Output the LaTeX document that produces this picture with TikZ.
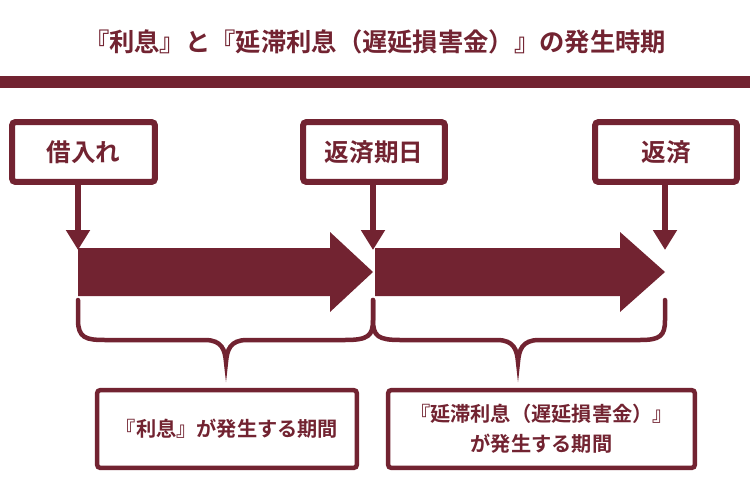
\documentclass[tikz,border=0pt]{standalone}
\usepackage{fontspec}
\newfontfamily\jp{Noto Sans CJK JP Bold}
\usepackage{tikz}
\usetikzlibrary{arrows.meta, positioning, calc}
\definecolor{maroon}{HTML}{722331}
\tikzset{
  labelbox/.style={draw=maroon, line width=1.2mm, fill=white, rounded corners=2pt,
    font=\jp\fontsize{14}{16}\selectfont, text=maroon, align=center, inner sep=0pt},
  notebox/.style={draw=maroon, line width=0.9mm, fill=white, rounded corners=2pt,
    font=\jp\fontsize{11.5}{17}\selectfont, text=maroon, align=center, inner sep=0pt},
  downarrow/.style={maroon, line width=1.2mm, -{Triangle[width=4.6mm,length=4mm]}},
  brace/.style={maroon, line width=0.9mm, line cap=round}
}
\begin{document}
\begin{tikzpicture}[x=0.02cm, y=-0.02cm]
        \useasboundingbox (0,0) rectangle (750,500);
        
        % Title and bar
        \node[font=\jp\Large, text=maroon] (title) at (375,42) {『利息』と『延滞利息（遅延損害金）』の発生時期};
        \fill[maroon] (0,76) rectangle (750,88);
        
        % Top boxes
        \node[labelbox, minimum width=2.86cm, minimum height=1.2cm] (borrow) at (83.5,152) {借入れ};
        \node[labelbox, minimum width=2.84cm, minimum height=1.2cm] (due) at (374,152) {返済期日};
        \node[labelbox, minimum width=2.84cm, minimum height=1.2cm] (repay) at (666,152) {返済};
        
        % Down arrows
        \coordinate (p1) at (78,250);
        \coordinate (p2) at (373,250);
        \coordinate (p3) at (665,250);
        \draw[downarrow] (borrow.south -| p1) -- (p1);
        \draw[downarrow] (due.south -| p2) -- (p2);
        \draw[downarrow] (repay.south -| p3) -- (p3);
        
        % Big arrows
        \fill[maroon] (78,248) -- (330,248) -- (330,232) -- (373,272) -- (330,312) -- (330,296) -- (78,296) -- cycle;
        \fill[maroon] (375,248) -- (620,248) -- (620,232) -- (665,272) -- (620,312) -- (620,296) -- (375,296) -- cycle;
        
        % Braces
        \draw[brace] (78,300) -- (78,320) .. controls (78,338) and (86,340) .. (105,340) -- (205,340)
          .. controls (222,340) and (225,350) .. (226,362) .. controls (227,350) and (230,340) .. (247,340)
          -- (345,340) .. controls (368,340) and (373,336) .. (373,320) -- (373,300);
        \draw[brace] (373,300) -- (373,320) .. controls (373,336) and (378,340) .. (400,340) -- (497,340)
          .. controls (514,340) and (517,350) .. (518,362) .. controls (519,350) and (522,340) .. (539,340)
          -- (640,340) .. controls (660,340) and (665,336) .. (665,320) -- (665,300);
        
        % Bottom boxes
        \node[notebox, minimum width=5.2cm, minimum height=1.56cm] (interest) at (227,429) {『利息』が発生する期間};
        \node[notebox, minimum width=6.14cm, minimum height=1.56cm] (late) at (541.5,429) {『延滞利息（遅延損害金）』\\が発生する期間};
        
    \end{tikzpicture}
\end{document}
